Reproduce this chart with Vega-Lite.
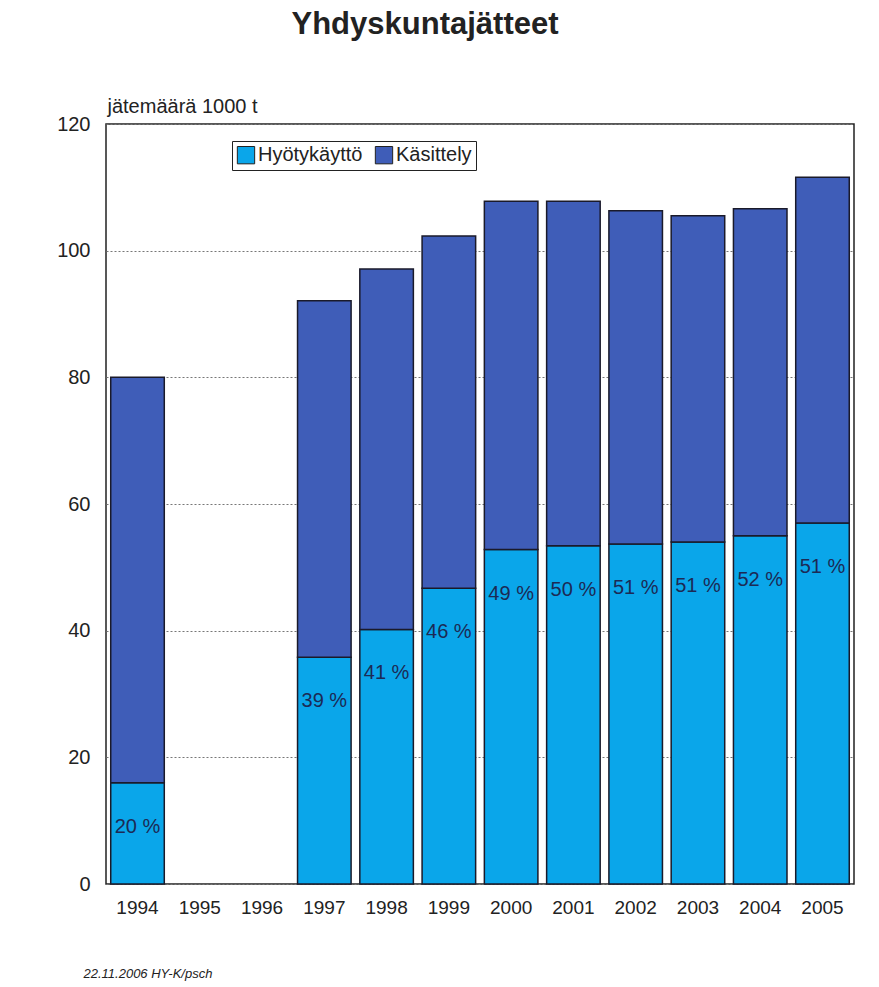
{
  "$schema": "https://vega.github.io/schema/vega-lite/v6.json",
  "width": 748,
  "height": 760,
  "autosize": {"type": "none"},
  "padding": {"left": 106, "top": 124, "right": 25, "bottom": 103},
  "background": "white",
  "config": {
    "font": "Liberation Sans",
    "view": {"stroke": "#222", "strokeWidth": 1.5}
  },
  "title": {
    "text": "Yhdyskuntajätteet",
    "fontSize": 31,
    "fontWeight": "bold",
    "color": "#222",
    "anchor": "middle",
    "dx": -55,
    "offset": 55,
    "font": "Liberation Sans"
  },
  "data": {
    "values": [
      {"year": "1994", "category": "Hyötykäyttö", "value": 16.0, "pct": "20 %"},
      {"year": "1994", "category": "Käsittely", "value": 64.0},
      {"year": "1997", "category": "Hyötykäyttö", "value": 35.8, "pct": "39 %"},
      {"year": "1997", "category": "Käsittely", "value": 56.3},
      {"year": "1998", "category": "Hyötykäyttö", "value": 40.2, "pct": "41 %"},
      {"year": "1998", "category": "Käsittely", "value": 56.9},
      {"year": "1999", "category": "Hyötykäyttö", "value": 46.7, "pct": "46 %"},
      {"year": "1999", "category": "Käsittely", "value": 55.6},
      {"year": "2000", "category": "Hyötykäyttö", "value": 52.8, "pct": "49 %"},
      {"year": "2000", "category": "Käsittely", "value": 55.0},
      {"year": "2001", "category": "Hyötykäyttö", "value": 53.4, "pct": "50 %"},
      {"year": "2001", "category": "Käsittely", "value": 54.4},
      {"year": "2002", "category": "Hyötykäyttö", "value": 53.7, "pct": "51 %"},
      {"year": "2002", "category": "Käsittely", "value": 52.6},
      {"year": "2003", "category": "Hyötykäyttö", "value": 54.0, "pct": "51 %"},
      {"year": "2003", "category": "Käsittely", "value": 51.5},
      {"year": "2004", "category": "Hyötykäyttö", "value": 55.0, "pct": "52 %"},
      {"year": "2004", "category": "Käsittely", "value": 51.6},
      {"year": "2005", "category": "Hyötykäyttö", "value": 57.0, "pct": "51 %"},
      {"year": "2005", "category": "Käsittely", "value": 54.6}
    ]
  },
  "encoding": {
    "x": {
      "field": "year",
      "type": "nominal",
      "scale": {
        "domain": ["1994", "1995", "1996", "1997", "1998", "1999", "2000", "2001", "2002", "2003", "2004", "2005"],
        "paddingInner": 0.14,
        "paddingOuter": 0.076
      },
      "axis": {
        "title": "22.11.2006 HY-K/psch",
        "titleFont": "Liberation Sans",
        "titleFontStyle": "italic",
        "titleFontWeight": "normal",
        "titleFontSize": 13,
        "titleColor": "#222",
        "titleAnchor": "start",
        "titleAlign": "left",
        "titleBaseline": "middle",
        "titleX": -23,
        "titleY": 89,
        "labelAngle": 0,
        "labelFontSize": 19,
        "labelColor": "#222",
        "labelPadding": 14,
        "ticks": false,
        "domain": false
      }
    }
  },
  "layer": [
    {
      "mark": {"type": "bar", "stroke": "#1a1a2a", "strokeWidth": 1.5},
      "encoding": {
        "y": {
          "field": "value",
          "type": "quantitative",
          "stack": "zero",
          "scale": {"domain": [0, 120]},
          "axis": {
            "values": [0, 20, 40, 60, 80, 100, 120],
            "title": "jätemäärä 1000 t",
            "titleAngle": 0,
            "titleAlign": "left",
            "titleBaseline": "alphabetic",
            "titleX": 1,
            "titleY": -12,
            "titleFontSize": 20,
            "titleFontWeight": "normal",
            "titleColor": "#222",
            "labelFontSize": 20,
            "labelColor": "#222",
            "labelPadding": 16,
            "ticks": false,
            "domain": false,
            "grid": true,
            "gridDash": [2, 2],
            "gridColor": "#777",
            "gridWidth": 1
          }
        },
        "color": {
          "field": "category",
          "type": "nominal",
          "scale": {"domain": ["Hyötykäyttö", "Käsittely"], "range": ["#0aa6ea", "#3f5db8"]},
          "legend": {
            "title": null,
            "orient": "none",
            "direction": "horizontal",
            "legendX": 126,
            "legendY": 17,
            "padding": 4,
            "strokeColor": "#222",
            "fillColor": "white",
            "symbolType": "square",
            "symbolSize": 300,
            "symbolStrokeColor": "#222",
            "symbolStrokeWidth": 1,
            "labelFontSize": 20,
            "labelColor": "#222",
            "labelOffset": 2,
            "columnPadding": 10,
            "labelExpr": "datum.label === 'Käsittely' ? datum.label + '\u00a0\u00a0\u00a0\u00a0\u00a0' : datum.label"
          }
        },
        "order": {"field": "category", "sort": "ascending"}
      }
    },
    {
      "transform": [{"filter": "datum.category === 'Hyötykäyttö'"}],
      "mark": {"type": "text", "fontSize": 20, "color": "#1c2a55", "dy": 44, "baseline": "middle", "align": "center"},
      "encoding": {
        "y": {"field": "value", "type": "quantitative"},
        "text": {"field": "pct"}
      }
    }
  ]
}
